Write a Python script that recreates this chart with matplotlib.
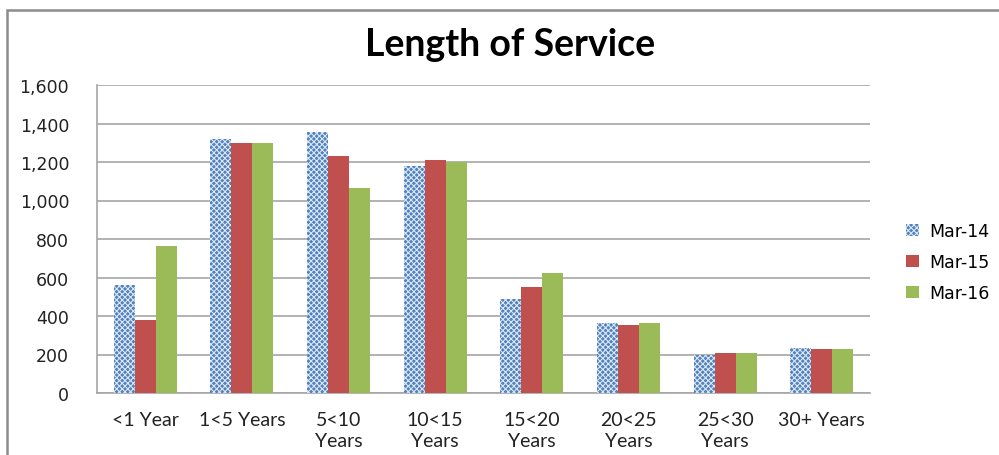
import numpy as np
import matplotlib
matplotlib.use("Agg")
from matplotlib import pyplot as plt
from matplotlib.patches import Rectangle

categories = ["<1 Year", "1<5 Years", "5<10\nYears", "10<15\nYears", "15<20\nYears",
              "20<25\nYears", "25<30\nYears", "30+ Years"]
mar14 = [563, 1320, 1354, 1178, 486, 363, 199, 235]
mar15 = [380, 1298, 1230, 1209, 550, 354, 209, 226]
mar16 = [764, 1298, 1065, 1202, 622, 363, 209, 230]
yticks = [0, 200, 400, 600, 800, 1000, 1200, 1400, 1600]

plt.rcParams['hatch.linewidth'] = 0.8

fig = plt.figure(figsize=(9.99, 4.56), dpi=100)
ax = fig.add_axes([97/999, 1-394/456, (870-97)/999, (394-86)/456])

x = np.arange(len(categories))
w = 0.217
ax.bar(x - w, mar14, w, color="#4f81bd", edgecolor="#dce7f5", hatch="xxxxxx",
       linewidth=0, label="Mar-14", zorder=3)
ax.bar(x, mar15, w, color="#c0504d", linewidth=0, label="Mar-15", zorder=3)
ax.bar(x + w, mar16, w, color="#9bbb59", linewidth=0, label="Mar-16", zorder=3)

ax.set_xlim(-0.5, len(categories) - 0.5)
ax.set_ylim(0, 1600)
ax.set_yticks(yticks)
ax.set_yticklabels([f"{v:,}" for v in yticks], fontsize=12.5, family="DejaVu Sans",
                   color="#222222")
ax.set_xticks(x)
ax.set_xticklabels(categories, fontsize=14, family="Lato", color="#222222",
                   linespacing=1.25)
ax.tick_params(axis="y", length=0, pad=20)
ax.tick_params(axis="x", length=0, pad=13)
ax.yaxis.grid(True, color="#a6a6a6", linewidth=1.2, zorder=0)
for s in ["top", "right"]:
    ax.spines[s].set_visible(False)
for s in ["left", "bottom"]:
    ax.spines[s].set_color("#a6a6a6")
    ax.spines[s].set_linewidth(1.2)

fig.text(0.511, 1-45/456, "Length of Service", ha="center", va="center",
         fontsize=27, fontweight="bold", family="Lato")

fig.legend(loc="center left", bbox_to_anchor=(890/999, 1-263/456), frameon=False,
           handlelength=0.75, handleheight=0.75, labelspacing=0.75,
           handletextpad=0.6, prop={"family": "DejaVu Sans", "size": 12.5})

fig.patches.append(Rectangle((7/999, -0.05), 1.1, 1-11/456+0.05, transform=fig.transFigure,
                             fill=False, edgecolor="#8c8c8c", linewidth=1.8))

fig.savefig("out.png", dpi=100)
